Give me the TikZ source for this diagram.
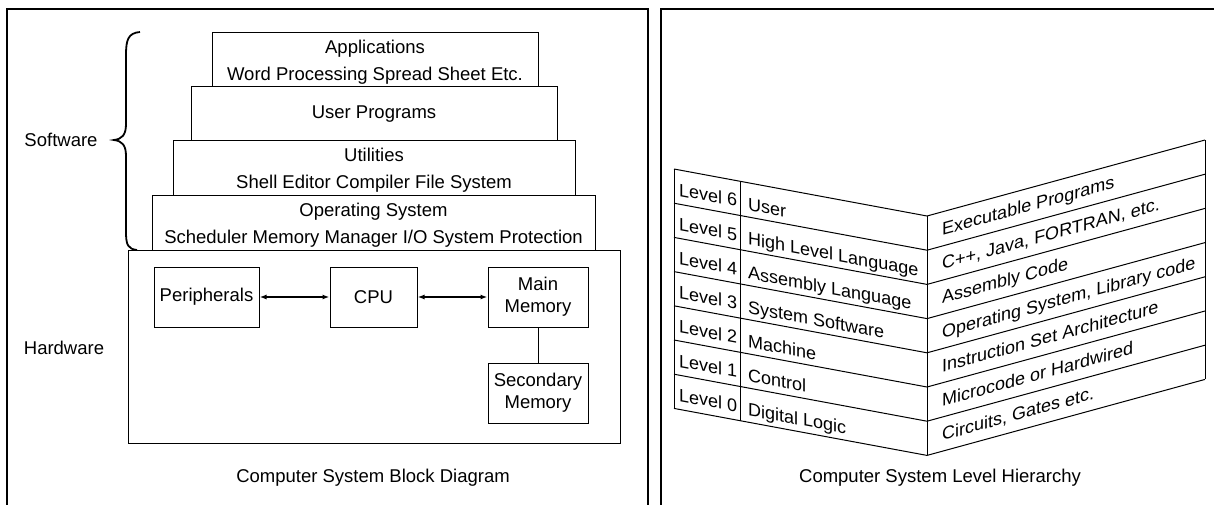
\documentclass[tikz,border=0pt]{standalone}
\usepackage{fontspec}
\setmainfont{Liberation Sans}
\usetikzlibrary{arrows.meta}
\begin{document}
\begin{tikzpicture}[x=1pt,y=-1pt,
  every node/.style={inner sep=0pt, font=\fontsize{18.5}{27}\selectfont},
  frame/.style={line width=1.6pt},
  box/.style={draw, line width=1pt},
  btext/.style={align=center},
  hbox/.style={box, align=center, font=\fontsize{18.5}{22}\selectfont},
  tl/.style={line width=1pt},
  dbl/.style={line width=1.4pt, {Latex[length=7pt,width=5pt]}-{Latex[length=7pt,width=5pt]}},
  lbl/.style={anchor=base west, font=\fontsize{18}{22}\selectfont}]
\useasboundingbox (0,0) rectangle (1214,504);
\clip (0,0) rectangle (1214,504);
% frames
\draw[frame] (7,520) -- (7,9) -- (648,9) -- (648,520);
\draw[frame] (661,520) -- (661,9) -- (1225,9);
% ---------- left panel ----------
\node[box, minimum width=326pt, minimum height=54pt] (apps) at (375,59) {};
\node[btext] (appst) at (375,62) {Applications\\Word Processing Spread Sheet Etc.};
\node[box, minimum width=366pt, minimum height=54pt] (user) at (374,113) {};
\node[btext] (usert) at (374,114) {User Programs};
\node[box, minimum width=402pt, minimum height=55pt] (util) at (374,167.5) {};
\node[btext] (utilt) at (374,170) {Utilities\\Shell Editor Compiler File System};
\node[box, minimum width=443pt, minimum height=55pt] (os) at (373.5,222.5) {};
\node[btext] (ost) at (373.5,225) {Operating System\\Scheduler Memory Manager I/O System Protection};
\node[box, minimum width=492pt, minimum height=193pt] (hw) at (374,346.5) {};
\node (swlabel) at (61,140) {Software};
\node (hwlabel) at (64,348) {Hardware};
\draw[line width=1.8pt] (140,32) .. controls (128,33) and (126,40) .. (126,55) -- (126,124)
  .. controls (126,135) and (122,139) .. (114,140) .. controls (122,141) and (126,145) .. (126,156)
  -- (126,232) .. controls (126,245) and (128,249) .. (137,250);
\node[hbox, minimum width=105pt, minimum height=60pt] (per) at (206.5,297) {Peripherals};
\node[hbox, minimum width=87pt, minimum height=60pt] (cpu) at (373.5,297) {CPU};
\node[hbox, minimum width=100pt, minimum height=60pt] (mm) at (538,297) {Main\\Memory};
\node[hbox, minimum width=100pt, minimum height=60pt] (sm) at (538,393) {Secondary\\Memory};
\draw[dbl] (per.east) -- (cpu.west);
\draw[dbl] (cpu.east) -- (mm.west);
\draw[line width=1pt] (mm.south) -- (sm.north);
\node (cap1) at (373,478) {Computer System Block Diagram};
% ---------- right panel ----------
\foreach \i in {0,...,7} {
  \draw[tl] (674,{169+34.2*\i}) -- (927,{216+34.2*\i}) -- (1205,{140+34.2*\i});
}
\draw[tl] (674,169) -- (674,408.4);
\draw[tl] (740,181.3) -- (740,420.7);
\draw[tl] (927,216) -- (927,455.4);
\draw[tl] (1205,140) -- (1205,379.4);
% left face, level column
\foreach \t/\y [count=\k] in {Level 6/196, Level 5/230.2, Level 4/264.4, Level 3/298.6, Level 2/332.8, Level 1/367, Level 0/401.2}
  \node[lbl, yslant=-0.1858] (lv\k) at (679,\y) {\t};
% left face, name column
\foreach \t/\y [count=\k] in {User/210.5, High Level Language/244.7, Assembly Language/278.9, System Software/313.1, Machine/347.3, Control/381.5, Digital Logic/415.7}
  \node[lbl, yslant=-0.1858] (nm\k) at (748,\y) {\t};
% right face
\foreach \t/\y [count=\k] in {Executable Programs/235.5, {C++, Java, FORTRAN, etc.}/269.7, Assembly Code/303.9, {Operating System, Library code}/338.1, Instruction Set Architecture/372.3, Microcode or Hardwired/406.5, {Circuits, Gates etc.}/440.7}
  \node[lbl, yslant=0.2734] (rt\k) at (942,\y) {\t};
\node (cap2) at (940,478) {Computer System Level Hierarchy};
\end{tikzpicture}
\end{document}
